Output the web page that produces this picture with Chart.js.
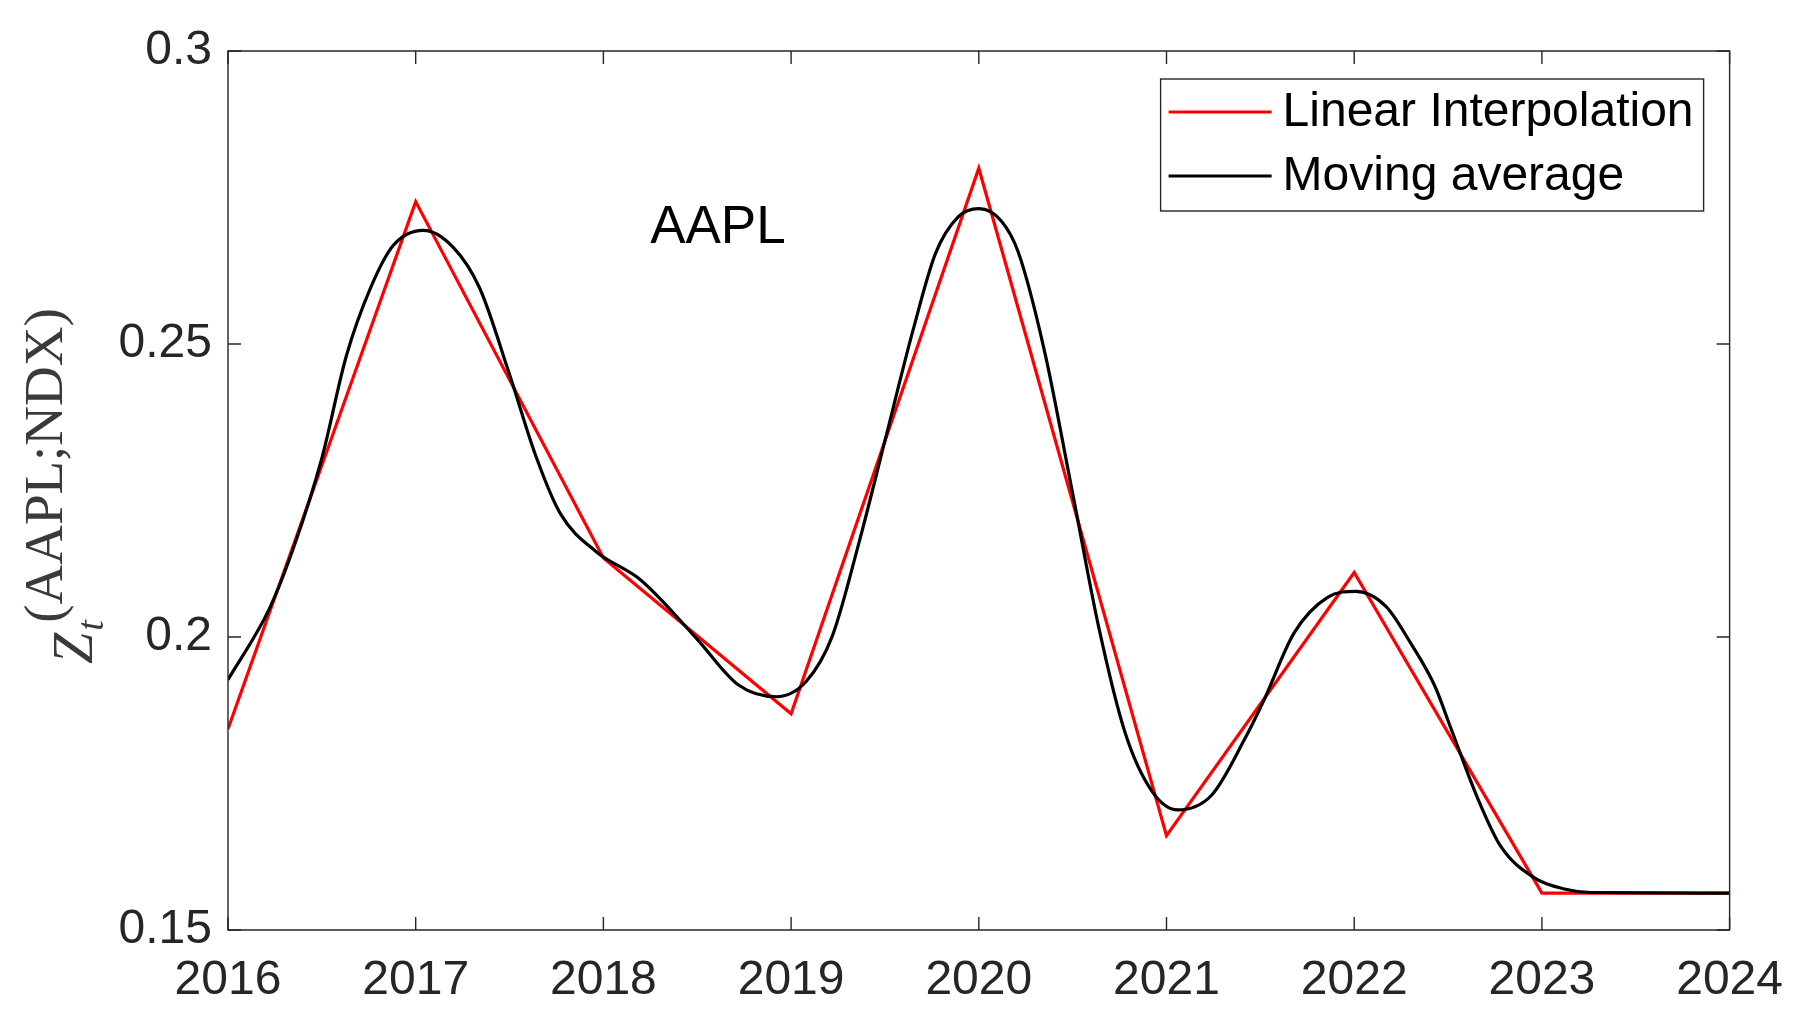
<!DOCTYPE html>
<html>
<head>
<meta charset="utf-8">
<script src="https://cdn.jsdelivr.net/npm/chart.js@4.4.1/dist/chart.umd.min.js"></script>
<style>
  html, body { margin: 0; padding: 0; background: #ffffff; }
  #wrap { width: 1805px; height: 1026px; position: relative; }
</style>
</head>
<body>
<div id="wrap"><canvas id="c" width="1805" height="1026"></canvas></div>
<script>
// ---------------- data ----------------
const seriesNames = ['Linear Interpolation', 'Moving average'];
const xTickLabels = ['2016', '2017', '2018', '2019', '2020', '2021', '2022', '2023', '2024'];
const yTickLabels = ['0.15', '0.2', '0.25', '0.3'];
const annotationText = 'AAPL';

// Linear interpolation (red): yearly knots
const linYears  = [2016, 2017, 2018, 2019, 2020, 2021, 2022, 2023, 2024];
const linValues = [0.1843, 0.2743, 0.2135, 0.1869, 0.2800, 0.1661, 0.2110, 0.1563, 0.1563];

// Moving average (black): values
const maYears = [
  2016.00, 2016.22, 2016.35, 2016.50, 2016.63, 2016.76, 2016.88,
  2017.04, 2017.20, 2017.34, 2017.50, 2017.64, 2017.77, 2017.96,
  2018.20, 2018.50, 2018.72, 2018.92, 2019.08, 2019.22, 2019.36,
  2019.50, 2019.65, 2019.77, 2019.89, 2020.00, 2020.12, 2020.21,
  2020.35, 2020.50, 2020.64, 2020.78, 2020.92, 2021.06, 2021.24,
  2021.42, 2021.52, 2021.68, 2021.86, 2022.01, 2022.17, 2022.30,
  2022.43, 2022.52, 2022.66, 2022.78, 2022.96, 2023.12, 2023.26,
  2024.00
];
const maValues = [
  0.1927, 0.2048, 0.2153, 0.2305, 0.2479, 0.2596, 0.2668,
  0.2694, 0.2665, 0.2596, 0.2448, 0.2309, 0.2211, 0.2146,
  0.2097, 0.1996, 0.1918, 0.1898, 0.1924, 0.2002, 0.2159,
  0.2335, 0.2524, 0.2655, 0.2717, 0.2731, 0.2710, 0.2657,
  0.2488, 0.2245, 0.2015, 0.1836, 0.1738, 0.1705, 0.1730,
  0.1828, 0.1893, 0.2007, 0.2068, 0.2078, 0.2052, 0.1990,
  0.1916, 0.1840, 0.1723, 0.1643, 0.1589, 0.1570, 0.1564,
  0.1563
];

// ---------------- styling ----------------
const AXIS_COLOR = '#262626';
const SANS = '"Liberation Sans", Arial, Helvetica, sans-serif';
const SERIF = '"Liberation Serif", "Times New Roman", serif';
const RED = '#ff0000';
const BLACK = '#000000';

const toPoints = (xs, ys) => xs.map((x, i) => ({ x: x, y: ys[i] }));

// Box + inward ticks (MATLAB style)
const framePlugin = {
  id: 'frame',
  afterDatasetsDraw(chart) {
    const { ctx, chartArea: a, scales } = chart;
    const xs = scales.x, ys = scales.y;
    const tl = 13;
    ctx.save();
    ctx.strokeStyle = AXIS_COLOR;
    ctx.lineWidth = 1.4;
    ctx.beginPath();
    ctx.rect(a.left, a.top, a.right - a.left, a.bottom - a.top);
    ctx.stroke();
    ctx.beginPath();
    xs.ticks.forEach(t => {
      const px = xs.getPixelForValue(t.value);
      ctx.moveTo(px, a.bottom); ctx.lineTo(px, a.bottom - tl);
      ctx.moveTo(px, a.top); ctx.lineTo(px, a.top + tl);
    });
    ys.ticks.forEach(t => {
      const py = ys.getPixelForValue(t.value);
      ctx.moveTo(a.left, py); ctx.lineTo(a.left + tl, py);
      ctx.moveTo(a.right, py); ctx.lineTo(a.right - tl, py);
    });
    ctx.stroke();
    ctx.restore();
  }
};

// Legend box inside the plot (north-east)
const legendPlugin = {
  id: 'boxLegend',
  afterDraw(chart) {
    const { ctx, chartArea: a } = chart;
    const bx1 = a.right - 26, by0 = a.top + 28;
    const bx0 = bx1 - 543, by1 = by0 + 132;
    ctx.save();
    ctx.fillStyle = '#ffffff';
    ctx.fillRect(bx0, by0, bx1 - bx0, by1 - by0);
    ctx.strokeStyle = AXIS_COLOR;
    ctx.lineWidth = 1.4;
    ctx.strokeRect(bx0, by0, bx1 - bx0, by1 - by0);
    const rows = [by0 + 33, by0 + 97];
    [0, 1].forEach((di, i) => {
      const ds = chart.data.datasets[di];
      ctx.strokeStyle = ds.borderColor;
      ctx.lineWidth = 3.2;
      ctx.beginPath();
      ctx.moveTo(bx0 + 8, rows[i]);
      ctx.lineTo(bx0 + 111, rows[i]);
      ctx.stroke();
      ctx.fillStyle = '#000000';
      ctx.font = '48px ' + SANS;
      ctx.textAlign = 'left';
      ctx.textBaseline = 'middle';
      ctx.fillText(ds.label, bx0 + 122, rows[i] + 1);
    });
    ctx.restore();
  }
};

// "AAPL" annotation, anchored through the scales
const annotationPlugin = {
  id: 'annot',
  afterDraw(chart) {
    const { ctx, scales } = chart;
    const px = scales.x.getPixelForValue(2018.61);
    const py = scales.y.getPixelForValue(0.2673);
    ctx.save();
    ctx.fillStyle = '#000000';
    ctx.font = '53px ' + SANS;
    ctx.textAlign = 'center';
    ctx.textBaseline = 'alphabetic';
    ctx.fillText(annotationText, px, py);
    ctx.restore();
  }
};

// Y-axis title: Z_t^{(AAPL;NDX)} rotated
const yTitlePlugin = {
  id: 'yTitle',
  afterDraw(chart) {
    const { ctx, chartArea: a } = chart;
    const ox = a.left - 136;  // baseline of Z
    const oy = 664;           // start of Z (bottom in screen)
    ctx.save();
    ctx.translate(ox, oy);
    ctx.rotate(-Math.PI / 2);
    ctx.fillStyle = '#3a3a3a';
    ctx.textBaseline = 'alphabetic';
    ctx.textAlign = 'left';
    ctx.font = 'italic 56px ' + SERIF;
    ctx.fillText('Z', 0, 0);
    const wZ = ctx.measureText('Z').width;
    ctx.font = 'italic 38px ' + SERIF;
    ctx.fillText('t', wZ + 2, 11);
    ctx.font = '55px ' + SERIF;
    ctx.fillText('(AAPL;NDX)', wZ + 10, -30);
    ctx.restore();
  }
};

const ctx = document.getElementById('c').getContext('2d');
new Chart(ctx, {
  type: 'line',
  data: {
    datasets: [
      {
        label: seriesNames[0],
        data: toPoints(linYears, linValues),
        borderColor: RED,
        backgroundColor: RED,
        borderWidth: 3.2,
        pointRadius: 0,
        tension: 0,
        order: 2
      },
      {
        label: seriesNames[1],
        data: toPoints(maYears, maValues),
        borderColor: BLACK,
        backgroundColor: BLACK,
        borderWidth: 3.2,
        pointRadius: 0,
        cubicInterpolationMode: 'monotone',
        order: 1
      }
    ]
  },
  options: {
    responsive: false,
    animation: false,
    devicePixelRatio: 1,
    layout: { padding: { left: 0, top: 51, right: 72, bottom: 0 } },
    plugins: {
      legend: { display: false },
      tooltip: { enabled: false },
      title: { display: false }
    },
    scales: {
      x: {
        type: 'linear',
        min: 2016, max: 2024,
        grid: { display: false, drawTicks: false },
        border: { display: false },
        ticks: {
          stepSize: 1,
          padding: 22,
          color: AXIS_COLOR,
          font: { family: SANS, size: 48 },
          maxRotation: 0,
          callback: (v) => {
            const i = Math.round(v - 2016);
            return xTickLabels[i] !== undefined ? xTickLabels[i] : '';
          }
        },
        afterFit: (s) => { s.height = 96; }
      },
      y: {
        type: 'linear',
        min: 0.15, max: 0.3,
        grid: { display: false, drawTicks: false },
        border: { display: false },
        ticks: {
          stepSize: 0.05,
          padding: 16,
          color: AXIS_COLOR,
          font: { family: SANS, size: 48 },
          callback: (v) => {
            const i = Math.round((v - 0.15) / 0.05);
            return yTickLabels[i] !== undefined ? yTickLabels[i] : '';
          }
        },
        afterFit: (s) => { s.width = 228; }
      }
    }
  },
  plugins: [framePlugin, annotationPlugin, legendPlugin, yTitlePlugin]
});
</script>
</body>
</html>
